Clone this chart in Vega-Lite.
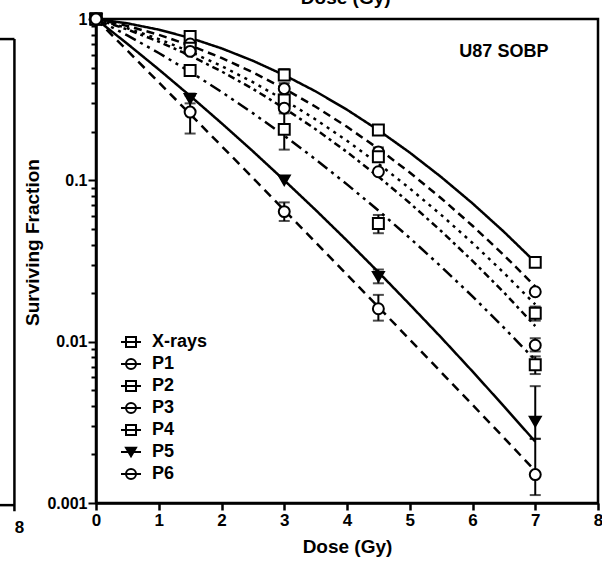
{
  "$schema": "https://vega.github.io/schema/vega-lite/v6.json",
  "width": 502,
  "height": 484,
  "autosize": {"type": "none"},
  "padding": {"left": 96, "top": 19, "right": 4, "bottom": 67},
  "background": "white",
  "config": {
    "font": "Liberation Sans",
    "view": {"stroke": "black", "strokeWidth": 2.5},
    "axis": {"labelFont": "Liberation Sans", "titleFont": "Liberation Sans", "labelFontWeight": "bold", "titleFontWeight": "bold", "labelColor": "black", "titleColor": "black", "domainColor": "black", "tickColor": "black", "grid": false},
    "legend": {
      "orient": "none", "legendX": 24, "legendY": 312, "padding": 0, "title": null,
      "labelFontSize": 18, "labelFontWeight": "bold", "labelFont": "Liberation Sans", "labelColor": "black",
      "labelOffset": 10, "symbolSize": 400, "symbolStrokeWidth": 2, "symbolOpacity": 1,
      "symbolStrokeColor": "black", "rowPadding": 2
    }
  },
  "datasets": {
    "series": [
      {"series": "X-rays"}, {"series": "P1"}, {"series": "P2"}, {"series": "P3"}, {"series": "P4"}, {"series": "P5"}, {"series": "P6"}
    ],
    "points": [
      {"series": "X-rays", "dose": 0, "sf": 1}, {"series": "X-rays", "dose": 1.5, "sf": 0.78}, {"series": "X-rays", "dose": 3, "sf": 0.45}, {"series": "X-rays", "dose": 4.5, "sf": 0.205}, {"series": "X-rays", "dose": 7, "sf": 0.031},
      {"series": "P1", "dose": 0, "sf": 1}, {"series": "P1", "dose": 1.5, "sf": 0.7}, {"series": "P1", "dose": 3, "sf": 0.37}, {"series": "P1", "dose": 4.5, "sf": 0.15}, {"series": "P1", "dose": 7, "sf": 0.0204},
      {"series": "P2", "dose": 0, "sf": 1}, {"series": "P2", "dose": 1.5, "sf": 0.66}, {"series": "P2", "dose": 3, "sf": 0.315}, {"series": "P2", "dose": 4.5, "sf": 0.14}, {"series": "P2", "dose": 7, "sf": 0.015},
      {"series": "P3", "dose": 0, "sf": 1}, {"series": "P3", "dose": 1.5, "sf": 0.63}, {"series": "P3", "dose": 3, "sf": 0.28}, {"series": "P3", "dose": 4.5, "sf": 0.113}, {"series": "P3", "dose": 7, "sf": 0.0095},
      {"series": "P4", "dose": 0, "sf": 1}, {"series": "P4", "dose": 1.5, "sf": 0.48}, {"series": "P4", "dose": 3, "sf": 0.207}, {"series": "P4", "dose": 4.5, "sf": 0.054}, {"series": "P4", "dose": 7, "sf": 0.0072},
      {"series": "P5", "dose": 0, "sf": 1}, {"series": "P5", "dose": 1.5, "sf": 0.32}, {"series": "P5", "dose": 3, "sf": 0.1}, {"series": "P5", "dose": 4.5, "sf": 0.0253}, {"series": "P5", "dose": 7, "sf": 0.0032},
      {"series": "P6", "dose": 0, "sf": 1}, {"series": "P6", "dose": 1.5, "sf": 0.265}, {"series": "P6", "dose": 3, "sf": 0.064}, {"series": "P6", "dose": 4.5, "sf": 0.016}, {"series": "P6", "dose": 7, "sf": 0.0015}
    ],
    "errors": [
      {"series": "X-rays", "dose": 1.5, "lo": 0.74, "hi": 0.82}, {"series": "X-rays", "dose": 3, "lo": 0.42, "hi": 0.49}, {"series": "X-rays", "dose": 4.5, "lo": 0.195, "hi": 0.215}, {"series": "X-rays", "dose": 7, "lo": 0.029, "hi": 0.033},
      {"series": "P1", "dose": 3, "lo": 0.34, "hi": 0.4}, {"series": "P1", "dose": 4.5, "lo": 0.14, "hi": 0.16},
      {"series": "P2", "dose": 7, "lo": 0.0135, "hi": 0.0165},
      {"series": "P3", "dose": 7, "lo": 0.0087, "hi": 0.0105},
      {"series": "P4", "dose": 1.5, "lo": 0.46, "hi": 0.5}, {"series": "P4", "dose": 3, "lo": 0.155, "hi": 0.26}, {"series": "P4", "dose": 4.5, "lo": 0.047, "hi": 0.061}, {"series": "P4", "dose": 7, "lo": 0.0063, "hi": 0.0081},
      {"series": "P5", "dose": 1.5, "lo": 0.3, "hi": 0.345}, {"series": "P5", "dose": 4.5, "lo": 0.023, "hi": 0.028}, {"series": "P5", "dose": 7, "lo": 0.0025, "hi": 0.0053},
      {"series": "P6", "dose": 1.5, "lo": 0.195, "hi": 0.335}, {"series": "P6", "dose": 3, "lo": 0.056, "hi": 0.073}, {"series": "P6", "dose": 4.5, "lo": 0.0135, "hi": 0.0195}, {"series": "P6", "dose": 7, "lo": 0.00112, "hi": 0.0025}
    ],
    "curves": [
      {"series": "X-rays", "dose": 0, "sf": 1}, {"series": "X-rays", "dose": 0.5, "sf": 0.94}, {"series": "X-rays", "dose": 1, "sf": 0.859}, {"series": "X-rays", "dose": 1.5, "sf": 0.763}, {"series": "X-rays", "dose": 2, "sf": 0.658}, {"series": "X-rays", "dose": 2.5, "sf": 0.551}, {"series": "X-rays", "dose": 3, "sf": 0.449}, {"series": "X-rays", "dose": 3.5, "sf": 0.356}, {"series": "X-rays", "dose": 4, "sf": 0.274}, {"series": "X-rays", "dose": 4.5, "sf": 0.2046}, {"series": "X-rays", "dose": 5, "sf": 0.1486}, {"series": "X-rays", "dose": 5.5, "sf": 0.1049}, {"series": "X-rays", "dose": 6, "sf": 0.072}, {"series": "X-rays", "dose": 6.5, "sf": 0.048}, {"series": "X-rays", "dose": 7, "sf": 0.0311},
      {"series": "P1", "dose": 0, "sf": 1}, {"series": "P1", "dose": 0.5, "sf": 0.906}, {"series": "P1", "dose": 1, "sf": 0.799}, {"series": "P1", "dose": 1.5, "sf": 0.686}, {"series": "P1", "dose": 2, "sf": 0.574}, {"series": "P1", "dose": 2.5, "sf": 0.467}, {"series": "P1", "dose": 3, "sf": 0.37}, {"series": "P1", "dose": 3.5, "sf": 0.286}, {"series": "P1", "dose": 4, "sf": 0.2147}, {"series": "P1", "dose": 4.5, "sf": 0.157}, {"series": "P1", "dose": 5, "sf": 0.1118}, {"series": "P1", "dose": 5.5, "sf": 0.0775}, {"series": "P1", "dose": 6, "sf": 0.0523}, {"series": "P1", "dose": 6.5, "sf": 0.0344}, {"series": "P1", "dose": 7, "sf": 0.022},
      {"series": "P2", "dose": 0, "sf": 1}, {"series": "P2", "dose": 0.5, "sf": 0.877}, {"series": "P2", "dose": 1, "sf": 0.751}, {"series": "P2", "dose": 1.5, "sf": 0.627}, {"series": "P2", "dose": 2, "sf": 0.511}, {"series": "P2", "dose": 2.5, "sf": 0.406}, {"series": "P2", "dose": 3, "sf": 0.315}, {"series": "P2", "dose": 3.5, "sf": 0.2385}, {"series": "P2", "dose": 4, "sf": 0.176}, {"series": "P2", "dose": 4.5, "sf": 0.1268}, {"series": "P2", "dose": 5, "sf": 0.0891}, {"series": "P2", "dose": 5.5, "sf": 0.0611}, {"series": "P2", "dose": 6, "sf": 0.0409}, {"series": "P2", "dose": 6.5, "sf": 0.0267}, {"series": "P2", "dose": 7, "sf": 0.017},
      {"series": "P3", "dose": 0, "sf": 1}, {"series": "P3", "dose": 0.5, "sf": 0.861}, {"series": "P3", "dose": 1, "sf": 0.724}, {"series": "P3", "dose": 1.5, "sf": 0.593}, {"series": "P3", "dose": 2, "sf": 0.4735}, {"series": "P3", "dose": 2.5, "sf": 0.369}, {"series": "P3", "dose": 3, "sf": 0.28}, {"series": "P3", "dose": 3.5, "sf": 0.2074}, {"series": "P3", "dose": 4, "sf": 0.1498}, {"series": "P3", "dose": 4.5, "sf": 0.1055}, {"series": "P3", "dose": 5, "sf": 0.0724}, {"series": "P3", "dose": 5.5, "sf": 0.0485}, {"series": "P3", "dose": 6, "sf": 0.0317}, {"series": "P3", "dose": 6.5, "sf": 0.0202}, {"series": "P3", "dose": 7, "sf": 0.0125},
      {"series": "P4", "dose": 0, "sf": 1}, {"series": "P4", "dose": 0.5, "sf": 0.7916}, {"series": "P4", "dose": 1, "sf": 0.6157}, {"series": "P4", "dose": 1.5, "sf": 0.4706}, {"series": "P4", "dose": 2, "sf": 0.3535}, {"series": "P4", "dose": 2.5, "sf": 0.2609}, {"series": "P4", "dose": 3, "sf": 0.1892}, {"series": "P4", "dose": 3.5, "sf": 0.1348}, {"series": "P4", "dose": 4, "sf": 0.0944}, {"series": "P4", "dose": 4.5, "sf": 0.065}, {"series": "P4", "dose": 5, "sf": 0.0439}, {"series": "P4", "dose": 5.5, "sf": 0.0292}, {"series": "P4", "dose": 6, "sf": 0.0191}, {"series": "P4", "dose": 6.5, "sf": 0.0122}, {"series": "P4", "dose": 7, "sf": 0.0077},
      {"series": "P5", "dose": 0, "sf": 1}, {"series": "P5", "dose": 0.5, "sf": 0.702}, {"series": "P5", "dose": 1, "sf": 0.487}, {"series": "P5", "dose": 1.5, "sf": 0.3338}, {"series": "P5", "dose": 2, "sf": 0.2261}, {"series": "P5", "dose": 2.5, "sf": 0.1514}, {"series": "P5", "dose": 3, "sf": 0.1001}, {"series": "P5", "dose": 3.5, "sf": 0.0655}, {"series": "P5", "dose": 4, "sf": 0.0423}, {"series": "P5", "dose": 4.5, "sf": 0.027}, {"series": "P5", "dose": 5, "sf": 0.017}, {"series": "P5", "dose": 5.5, "sf": 0.01062}, {"series": "P5", "dose": 6, "sf": 0.00654}, {"series": "P5", "dose": 6.5, "sf": 0.00398}, {"series": "P5", "dose": 7, "sf": 0.0024},
      {"series": "P6", "dose": 0, "sf": 1}, {"series": "P6", "dose": 0.5, "sf": 0.637}, {"series": "P6", "dose": 1, "sf": 0.405}, {"series": "P6", "dose": 1.5, "sf": 0.2575}, {"series": "P6", "dose": 2, "sf": 0.1633}, {"series": "P6", "dose": 2.5, "sf": 0.1035}, {"series": "P6", "dose": 3, "sf": 0.0654}, {"series": "P6", "dose": 3.5, "sf": 0.0413}, {"series": "P6", "dose": 4, "sf": 0.026}, {"series": "P6", "dose": 4.5, "sf": 0.0164}, {"series": "P6", "dose": 5, "sf": 0.01031}, {"series": "P6", "dose": 5.5, "sf": 0.00647}, {"series": "P6", "dose": 6, "sf": 0.00406}, {"series": "P6", "dose": 6.5, "sf": 0.00254}, {"series": "P6", "dose": 7, "sf": 0.00158}
    ],
    "one": [{}]
  },
  "layer": [
    {
      "data": {"name": "curves"},
      "mark": {"type": "line", "color": "black", "strokeWidth": 2.5, "clip": true},
      "encoding": {
        "x": {"field": "dose", "type": "quantitative", "title": "Dose (Gy)", "scale": {"domain": [0, 8], "nice": false},
          "axis": {"values": [0, 1, 2, 3, 4, 5, 6, 7, 8], "format": "d", "titleFontSize": 19, "titlePadding": 9, "labelFontSize": 17, "tickSize": 7, "tickWidth": 2.5, "domainWidth": 2.5, "labelPadding": 2, "labelFlush": false}},
        "y": {"field": "sf", "type": "quantitative", "title": "Surviving Fraction", "scale": {"type": "log", "domain": [0.001, 1], "nice": false},
          "axis": {
            "values": [0.001, 0.002, 0.003, 0.004, 0.005, 0.006, 0.007, 0.008, 0.009, 0.01, 0.02, 0.03, 0.04, 0.05, 0.06, 0.07, 0.08, 0.09, 0.1, 0.2, 0.3, 0.4, 0.5, 0.6, 0.7, 0.8, 0.9, 1],
            "labelExpr": "datum.value > 0.99 ? '1' : abs(datum.value - 0.1) < 1e-9 ? '0.1' : abs(datum.value - 0.01) < 1e-10 ? '0.01' : abs(datum.value - 0.001) < 1e-11 ? '0.001' : ''",
            "tickSize": {"condition": {"test": "abs(log(datum.value) / LN10 - round(log(datum.value) / LN10)) < 1e-6", "value": 8}, "value": 5},
            "tickWidth": 2,
            "domainWidth": 2.5,
            "labelFontSize": 16,
            "labelPadding": 1,
            "labelFlush": false,
            "labelOverlap": false,
            "titleFontSize": 19,
            "titlePadding": 4,
            "titleY": 223
          }},
        "detail": {"field": "series"},
        "strokeDash": {
          "condition": [
            {"test": "datum.series === 'P1'", "value": [8, 5]},
            {"test": "datum.series === 'P2'", "value": [3, 5]},
            {"test": "datum.series === 'P3'", "value": [7, 4, 3, 4]},
            {"test": "datum.series === 'P4'", "value": [12, 5, 3, 5, 3, 5]},
            {"test": "datum.series === 'P6'", "value": [9, 6]}
          ],
          "value": [1, 0]
        }
      }
    },
    {
      "data": {"name": "errors"},
      "mark": {"type": "errorbar", "ticks": {"size": 11, "thickness": 2, "color": "black"}, "rule": {"strokeWidth": 2, "color": "black"}},
      "encoding": {
        "x": {"field": "dose", "type": "quantitative", "title": "Dose (Gy)"},
        "y": {"field": "lo", "type": "quantitative", "title": "Surviving Fraction"},
        "y2": {"field": "hi"}
      }
    },
    {
      "data": {"name": "points"},
      "mark": {"type": "point", "filled": true, "stroke": "black", "strokeWidth": 2, "size": 120, "opacity": 1},
      "encoding": {
        "x": {"field": "dose", "type": "quantitative", "title": "Dose (Gy)"},
        "y": {"field": "sf", "type": "quantitative", "title": "Surviving Fraction"},
        "shape": {
          "condition": [
            {"test": "datum.series === 'P5'", "value": "triangle-down"},
            {"test": "datum.series === 'X-rays' || datum.series === 'P2' || datum.series === 'P4'", "value": "square"}
          ],
          "value": "circle"
        },
        "fill": {"condition": {"test": "datum.series === 'P5'", "value": "black"}, "value": "white"}
      }
    },
    {
      "data": {"name": "series"},
      "mark": {"type": "point", "filled": true, "opacity": 0},
      "encoding": {
        "shape": {"field": "series", "type": "nominal",
          "scale": {"domain": ["X-rays", "P1", "P2", "P3", "P4", "P5", "P6"],
            "range": [
              "M-1,0H1M-0.5,-0.5H0.5V0.5H-0.5Z",
              "M-1,0H1M0.5,0A0.5,0.5,0,1,1,-0.5,0A0.5,0.5,0,1,1,0.5,0Z",
              "M-1,0H1M-0.5,-0.5H0.5V0.5H-0.5Z",
              "M-1,0H1M0.5,0A0.5,0.5,0,1,1,-0.5,0A0.5,0.5,0,1,1,0.5,0Z",
              "M-1,0H1M-0.5,-0.5H0.5V0.5H-0.5Z",
              "M-1,0H1M-0.5,-0.43H0.5L0,0.43Z",
              "M-1,0H1M0.5,0A0.5,0.5,0,1,1,-0.5,0A0.5,0.5,0,1,1,0.5,0Z"
            ]}},
        "fill": {"field": "series", "type": "nominal",
          "scale": {"domain": ["X-rays", "P1", "P2", "P3", "P4", "P5", "P6"],
            "range": ["white", "white", "white", "white", "white", "black", "white"]}},
        "stroke": {"field": "series", "type": "nominal",
          "scale": {"domain": ["X-rays", "P1", "P2", "P3", "P4", "P5", "P6"],
            "range": ["black", "black", "black", "black", "black", "black", "black"]}}
      }
    },
    {
      "data": {"name": "one"},
      "mark": {"type": "text", "fontSize": 18, "fontWeight": "bold", "font": "Liberation Sans", "color": "black"},
      "encoding": {"x": {"datum": 6.5}, "y": {"datum": 0.624}, "text": {"value": "U87 SOBP"}}
    },
    {
      "data": {"name": "one"},
      "mark": {"type": "text", "fontSize": 19, "fontWeight": "bold", "font": "Liberation Sans", "color": "black", "baseline": "alphabetic"},
      "encoding": {"x": {"datum": 3.98}, "y": {"datum": 1.239}, "text": {"value": "Dose (Gy)"}}
    },
    {
      "data": {"name": "one"},
      "mark": {"type": "rule", "color": "black", "strokeWidth": 2.5},
      "encoding": {"x": {"datum": -1.3}, "y": {"datum": 0.751}, "y2": {"datum": 0.00089}}
    },
    {
      "data": {"name": "one"},
      "mark": {"type": "rule", "color": "black", "strokeWidth": 2.5},
      "encoding": {"x": {"datum": -1.55}, "x2": {"datum": -1.3}, "y": {"datum": 0.751}}
    },
    {
      "data": {"name": "one"},
      "mark": {"type": "rule", "color": "black", "strokeWidth": 2.5},
      "encoding": {"x": {"datum": -1.55}, "x2": {"datum": -1.3}, "y": {"datum": 0.00097}}
    },
    {
      "data": {"name": "one"},
      "mark": {"type": "text", "fontSize": 17, "fontWeight": "bold", "font": "Liberation Sans", "color": "black"},
      "encoding": {"x": {"datum": -1.22}, "y": {"datum": 0.000699}, "text": {"value": "8"}}
    }
  ]
}
